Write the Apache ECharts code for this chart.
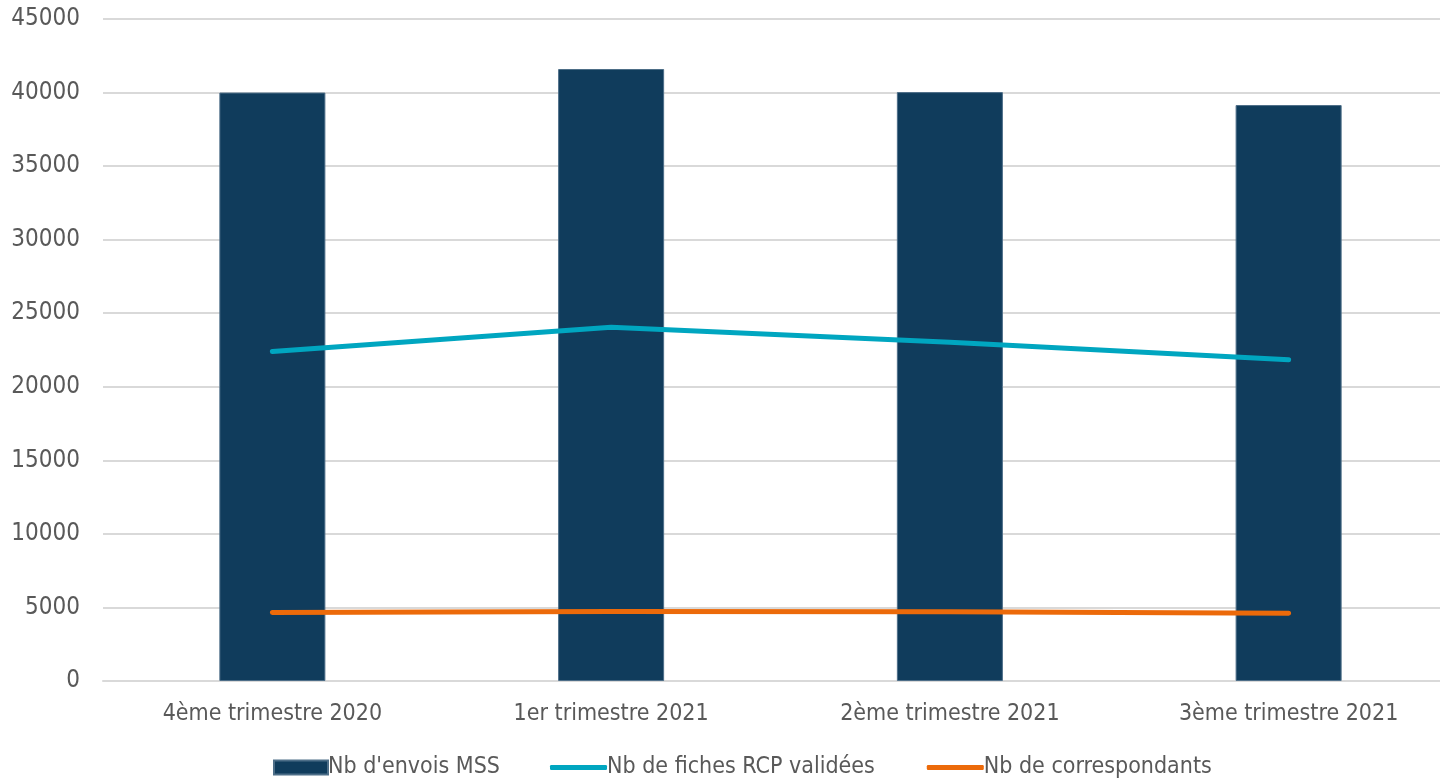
<!DOCTYPE html>
<html><head><meta charset="utf-8">
<script src="https://cdn.jsdelivr.net/npm/echarts@6/dist/echarts.min.js"></script>
<style>html,body{margin:0;padding:0;background:#fff;overflow:hidden}#c{width:1458px;height:779px}</style>
</head><body><div id="c"></div>
<script>
const categories = ['4ème trimestre 2020', '1er trimestre 2021', '2ème trimestre 2021', '3ème trimestre 2021'];
const envoisMSS = [40000, 41600, 40030, 39150];
const fichesRCP = [22400, 24050, 23030, 21830];
const correspondants = [4650, 4720, 4710, 4610];
const FONT = '"DejaVu Sans Condensed", "DejaVu Sans", sans-serif';
const legendText = { color: '#595959', fontSize: 23, fontFamily: FONT, padding: [0, 0, 0, -5] };
const chart = echarts.init(document.getElementById('c'));
chart.setOption({
  animation: false,
  textStyle: { fontFamily: FONT },
  grid: { left: 103, right: 0, top: 19, bottom: 98, containLabel: false },
  legend: [
    { left: 268, top: 751, itemWidth: 54, itemHeight: 14, itemGap: 49,
      textStyle: legendText, data: [{ name: "Nb d'envois MSS", icon: 'rect' }] },
    { left: 545, top: 751, itemWidth: 57, itemHeight: 5, itemGap: 52, icon: 'roundRect',
      textStyle: legendText, data: ['Nb de fiches RCP validées', 'Nb de correspondants'] }
  ],
  xAxis: {
    type: 'category', data: categories,
    axisTick: { show: false },
    axisLine: { lineStyle: { color: '#d9d9d9', width: 2 } },
    axisLabel: { color: '#595959', fontSize: 23, margin: 22, fontFamily: FONT }
  },
  yAxis: {
    type: 'value', min: 0, max: 45000, interval: 5000,
    axisLine: { show: false }, axisTick: { show: false },
    splitLine: { lineStyle: { color: '#d9d9d9', width: 2 } },
    axisLabel: { color: '#595959', fontSize: 24, margin: 23, fontFamily: FONT, formatter: v => String(v) }
  },
  series: [
    { name: "Nb d'envois MSS", type: 'bar', data: envoisMSS, barWidth: '31.3%',
      itemStyle: { color: '#103c5c', borderColor: '#4d6e88', borderWidth: 1 } },
    { name: 'Nb de fiches RCP validées', type: 'line', data: fichesRCP, symbol: 'none',
      lineStyle: { color: '#00a6c0', width: 5, cap: 'round', join: 'round' }, itemStyle: { color: '#00a6c0' } },
    { name: 'Nb de correspondants', type: 'line', data: correspondants, symbol: 'none',
      lineStyle: { color: '#ec6a0a', width: 5, cap: 'round', join: 'round' }, itemStyle: { color: '#ec6a0a' } }
  ]
});
</script></body></html>
